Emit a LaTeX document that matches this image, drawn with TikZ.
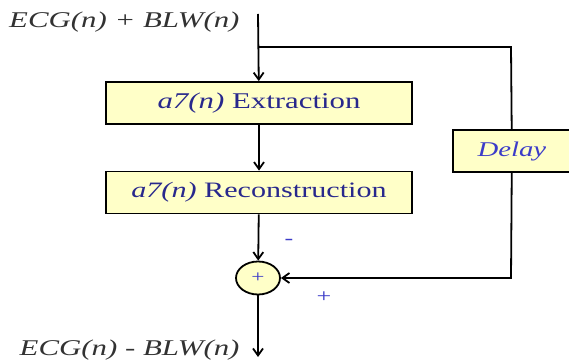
\documentclass[tikz,border=0pt]{standalone}
\usepackage{fontspec}
\setmainfont[FakeStretch=1.37]{Liberation Serif}
\usetikzlibrary{arrows.meta,shapes.geometric}
\definecolor{boxfill}{RGB}{255,255,200}
\definecolor{txtblue}{RGB}{40,40,140}
\definecolor{lblblue}{RGB}{60,60,200}
\definecolor{lblgray}{RGB}{50,50,50}
\begin{document}
\begin{tikzpicture}[x=1pt,y=-1pt,
  blk/.style={draw=black,line width=1.8pt,fill=boxfill,minimum height=42pt,inner sep=0pt},
  wire/.style={line width=1.8pt},
  arr/.style={wire,-{Straight Barb[length=7pt,width=10pt,line width=1.8pt]}},
  sig/.style={font=\fontsize{22.5}{22.5}\selectfont\itshape,text=lblgray},
  lbl/.style={font=\fontsize{19}{19}\selectfont,text=lblblue}]
\useasboundingbox (0,0) rectangle (569,363);
\node[blk,minimum width=306pt,font=\fontsize{22.5}{22.5}\selectfont,text=txtblue] (ext) at (259,103) {\textit{a7(n)} Extraction};
\node[blk,minimum width=306pt,font=\fontsize{22}{22}\selectfont,text=txtblue] (rec) at (259,192.5) {\textit{a7(n)} Reconstruction};
\node[blk,minimum width=118pt,anchor=west,font=\fontsize{21}{21}\selectfont\itshape,text=lblblue] (del) at (452,151) {Delay};
\node[draw=black,line width=1.8pt,fill=boxfill,ellipse,minimum width=44pt,minimum height=33pt,inner sep=0pt,font=\fontsize{17}{17}\selectfont,text=lblblue] (sum) at (258,278) {+};
\coordinate (top) at (258,14);
\coordinate (br) at (258,47);
\coordinate (tr) at (511,47);
\coordinate (brr) at (511,278);
\coordinate (out) at (258,357);
\node[sig,anchor=east] (inl) at (243,22) {ECG(n) + BLW(n)};
\node[sig,anchor=east] (outl) at (243,350) {ECG(n) - BLW(n)};
\draw[arr] (top) -- (ext);
\draw[wire] (br) -- (tr) -- (del);
\draw[arr] (del) -- (brr) -- (sum);
\draw[arr] (ext) -- (rec);
\draw[arr] (rec) -- (sum);
\draw[arr] (sum) -- (out);
\node[lbl] (minus) at (289,242) {-};
\node[lbl] (plus) at (324,297) {+};
\end{tikzpicture}
\end{document}
